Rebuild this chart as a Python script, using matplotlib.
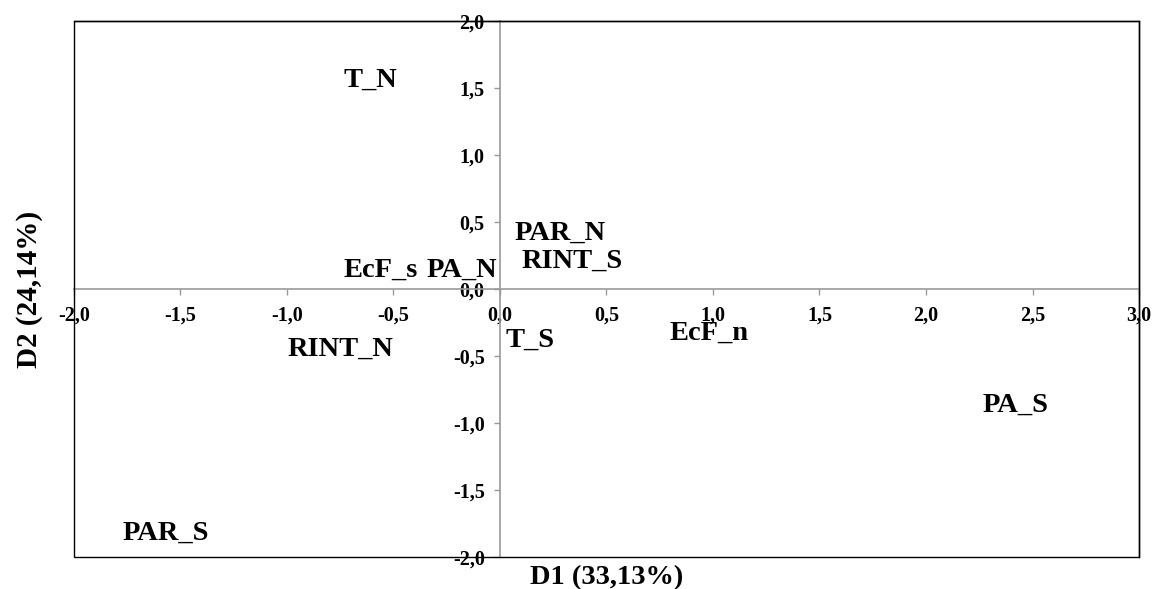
import matplotlib
matplotlib.use("Agg")
import matplotlib.pyplot as plt
from matplotlib.patches import Rectangle
from matplotlib.ticker import MultipleLocator, FuncFormatter

plt.rcParams['font.family'] = ['Liberation Serif', 'DejaVu Serif']
plt.rcParams['font.weight'] = 'bold'

# observation labels and their coordinates on D1 / D2
labels = ['T_N', 'PAR_N', 'RINT_S', 'EcF_s', 'PA_N', 'RINT_N', 'T_S', 'EcF_n', 'PA_S', 'PAR_S']
d1 = [-0.61, 0.28, 0.34, -0.56, -0.18, -0.75, 0.14, 0.98, 2.42, -1.57]
d2 = [1.56, 0.42, 0.21, 0.14, 0.14, -0.45, -0.38, -0.33, -0.87, -1.82]

xlab = 'D1 (33,13%)'
ylab = 'D2 (24,14%)'

fig = plt.figure(figsize=(11.56, 5.89), dpi=100)
ax = fig.add_axes([0.064, 0.0543, 0.9213, 0.91])
ax.set_xlim(-2, 3)
ax.set_ylim(-2, 2)

for lab, x, y in zip(labels, d1, d2):
    ax.text(x, y, lab, ha='center', va='center', fontsize=20.5, fontweight='bold')

# zero axes in gray, outer frame black
for s in ['left', 'bottom']:
    ax.spines[s].set_position('zero')
    ax.spines[s].set_color('#999999')
    ax.spines[s].set_linewidth(1.2)
for s in ['top', 'right']:
    ax.spines[s].set_color('black')
    ax.spines[s].set_linewidth(1.0)
ax.add_patch(Rectangle((0, 0), 1, 1, transform=ax.transAxes, fill=False,
                       edgecolor='black', linewidth=1.0, clip_on=False, zorder=3))

ax.xaxis.set_major_locator(MultipleLocator(0.5))
ax.yaxis.set_major_locator(MultipleLocator(0.5))
fmt = FuncFormatter(lambda v, p: ('%.1f' % v).replace('.', ','))
ax.xaxis.set_major_formatter(fmt)
ax.yaxis.set_major_formatter(fmt)
ax.tick_params(axis='both', direction='out', length=4, width=1, color='#999999',
               labelsize=14.5, labelcolor='black')
ax.tick_params(axis='x', pad=8)
ax.tick_params(axis='y', pad=7)
for t in ax.get_xticklabels() + ax.get_yticklabels():
    t.set_fontweight('bold')

ax.text(0.5, -0.039, xlab, transform=ax.transAxes, ha='center', va='center',
        fontsize=20.5, fontweight='bold')
ax.text(-0.042, 0.5, ylab, transform=ax.transAxes, ha='center', va='center',
        rotation=90, fontsize=21, fontweight='bold')

fig.savefig('out.png', dpi=100)
